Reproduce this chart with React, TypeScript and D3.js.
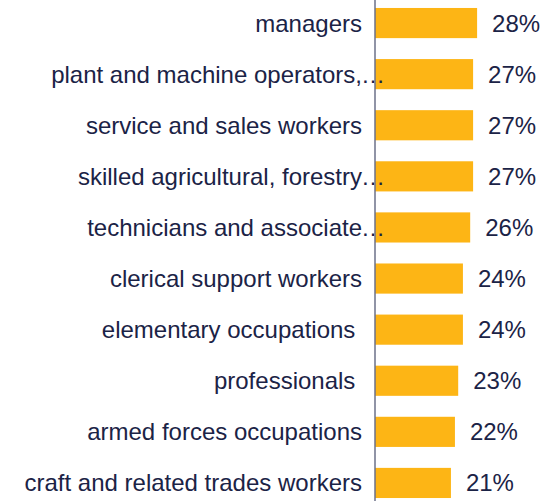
import React from "react";
import * as d3 from "d3";

const categories = [
  "managers",
  "plant and machine operators,",
  "service and sales workers",
  "skilled agricultural, forestry",
  "technicians and associate",
  "clerical support workers",
  "elementary occupations ",
  "professionals ",
  "armed forces occupations",
  "craft and related trades workers",
];
const truncated = [false, true, false, true, true, false, false, false, false, false];
const values = [28.1, 27.0, 27.0, 27.0, 26.2, 24.2, 24.2, 22.9, 22.0, 20.9];
const valueLabels = ["28%", "27%", "27%", "27%", "26%", "24%", "24%", "23%", "22%", "21%"];

const W = 548;
const H = 501;
const FONT = "'Liberation Sans', Arial, sans-serif";
const TEXT = "#1b2346";
const BAR = "#FDB515";
const AXIS = "#6b7088";

export default function App() {
  const x = d3.scaleLinear().domain([0, 30]).range([375, 375 + 109]);
  const y = d3
    .scaleBand<string>()
    .domain(categories)
    .range([-2.5, 508.5])
    .paddingInner(0.41)
    .paddingOuter(0.205);
  const bw = y.bandwidth();

  return (
    <svg
      width={W}
      height={H}
      style={{ position: "absolute", left: 0, top: 0, background: "#fff" }}
      fontFamily={FONT}
    >
      {categories.map((c, i) => (
        <rect
          key={"b" + i}
          x={x(0)}
          y={y(c)!}
          width={x(values[i]) - x(0)}
          height={bw}
          fill={BAR}
        />
      ))}
      {categories.map((c, i) => {
        const cy = y(c)! + bw / 2;
        return (
          <g key={"l" + i}>
            <text
              x={362}
              y={cy}
              textAnchor="end"
              dominantBaseline="central"
              fontSize={24}
              fill={TEXT}
              style={{ whiteSpace: "pre" }}
            >
              {c}
            </text>
            {truncated[i] && (
              <text
                x={361}
                y={cy}
                textAnchor="start"
                dominantBaseline="central"
                fontSize={24}
                fill={TEXT}
              >
                …
              </text>
            )}
          </g>
        );
      })}
      <line x1={375} x2={375} y1={0} y2={H} stroke={AXIS} strokeWidth={1.5} />
      {categories.map((c, i) => (
        <text
          key={"v" + i}
          x={x(values[i]) + 15}
          y={y(c)! + bw / 2}
          dominantBaseline="central"
          fontSize={24}
          fill={TEXT}
        >
          {valueLabels[i]}
        </text>
      ))}
    </svg>
  );
}
